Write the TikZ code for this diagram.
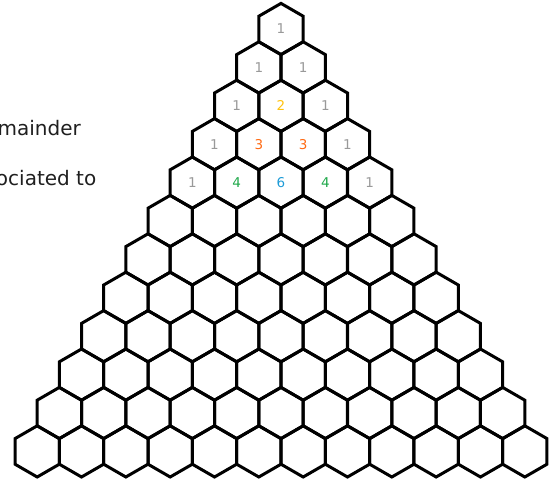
\documentclass[tikz,border=0pt]{standalone}
\usepackage{fontspec}
\setmainfont{DejaVu Sans}
\usepackage{xcolor}
\usetikzlibrary{positioning}

\definecolor{numgray}{HTML}{999999}
\definecolor{numgold}{HTML}{FFC20E}
\definecolor{numorange}{HTML}{FF6A13}
\definecolor{numgreen}{HTML}{1FA84A}
\definecolor{numblue}{HTML}{1E9BD7}

\begin{document}
\begin{tikzpicture}[x=1pt, y=-1pt,
    hexcell/.style={line width=3pt, line join=miter},
    numlabel/.style={font=\fontsize{13.5}{16}\selectfont, inner sep=0pt},
    sidetext/.style={font=\fontsize{20}{23}\selectfont, text=black!88, inner sep=0pt, anchor=base east}]
  \clip (0,0) rectangle (558,482);

  % Pascal triangle of hexagons, 12 rows
  \foreach \r in {0,...,11} {
    \foreach \k in {0,...,\r} {
      \coordinate (h-\r-\k) at ({281+(\k-\r/2)*44.33}, {29+38.4*\r});
      \draw[hexcell] (h-\r-\k) ++(0,-25.6) -- ++(22.17,12.8) -- ++(0,25.6)
        -- ++(-22.17,12.8) -- ++(-22.17,-12.8) -- ++(0,-25.6) -- cycle;
    }
  }

  % numbers in the first five rows
  \foreach \r/\k/\v/\c in {0/0/1/numgray,
      1/0/1/numgray, 1/1/1/numgray,
      2/0/1/numgray, 2/1/2/numgold, 2/2/1/numgray,
      3/0/1/numgray, 3/1/3/numorange, 3/2/3/numorange, 3/3/1/numgray,
      4/0/1/numgray, 4/1/4/numgreen, 4/2/6/numblue, 4/3/4/numgreen, 4/4/1/numgray} {
    \node[numlabel, text=\c] (n-\r-\k) at (h-\r-\k) {\v};
  }

  % text cut off at the left border
  \node[sidetext] (remtext) at (81,135) {mainder};
  \node[sidetext] (assoctext) at (96.5,185) {ociated to};
\end{tikzpicture}
\end{document}
